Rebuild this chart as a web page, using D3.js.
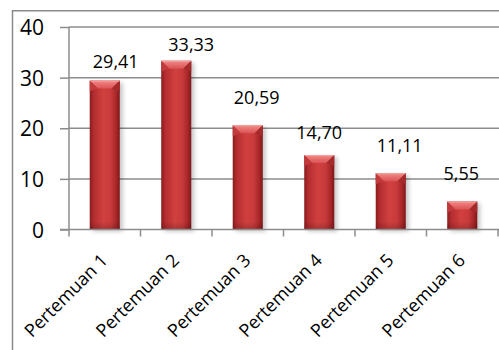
<!DOCTYPE html>
<html>
<head>
<meta charset="utf-8">
<script src="https://cdn.jsdelivr.net/npm/d3@7"></script>
<style>
  html, body { margin: 0; padding: 0; background: #fff; }
  svg { display: block; font-family: "Open Sans", "Noto Sans", sans-serif; }
</style>
</head>
<body>
<svg id="chart" width="499" height="350"></svg>
<script>
// Attendance percentage per meeting
const categories = ["Pertemuan 1", "Pertemuan 2", "Pertemuan 3", "Pertemuan 4", "Pertemuan 5", "Pertemuan 6"];
const values = [29.41, 33.33, 20.59, 14.70, 11.11, 5.55];
const yTicks = [0, 10, 20, 30, 40];

// Hand placement of the value labels relative to each bar top (px)
const labelDx = [11, 15, 9, 0, 9, -1];
const labelDy = [-13, -10, -21, -16, -21, -21];

const svg = d3.select("#chart");
const W = 499, H = 350;
const plot = { left: 69, right: 498, top: 27, bottom: 229.5 };

const idFmt = d3.formatLocale({ decimal: ",", thousands: ".", grouping: [3], currency: ["", ""] });
const fmt = idFmt.format(".2f");

const x = d3.scaleBand().domain(categories)
  .range([plot.left, plot.right]).paddingInner(0.58).paddingOuter(0.29);
const xCell = d3.scaleBand().domain(categories).range([plot.left, plot.right]).padding(0);
const y = d3.scaleLinear().domain([0, 40]).range([plot.bottom, plot.top]);

const defs = svg.append("defs");
const body = defs.append("linearGradient").attr("id", "barBody").attr("x1", 0).attr("x2", 1).attr("y1", 0).attr("y2", 0);
body.append("stop").attr("offset", "0%").attr("stop-color", "#8a1c1e");
body.append("stop").attr("offset", "14%").attr("stop-color", "#b42d30");
body.append("stop").attr("offset", "45%").attr("stop-color", "#d0403f");
body.append("stop").attr("offset", "70%").attr("stop-color", "#c83a3b");
body.append("stop").attr("offset", "88%").attr("stop-color", "#a72729");
body.append("stop").attr("offset", "100%").attr("stop-color", "#7e1618");

const cap = defs.append("linearGradient").attr("id", "barCap").attr("x1", 0).attr("x2", 0).attr("y1", 0).attr("y2", 1);
cap.append("stop").attr("offset", "0%").attr("stop-color", "#f08a88");
cap.append("stop").attr("offset", "100%").attr("stop-color", "#dc5253");

const shade = defs.append("linearGradient").attr("id", "barFoot").attr("x1", 0).attr("x2", 0).attr("y1", 0).attr("y2", 1);
shade.append("stop").attr("offset", "0%").attr("stop-color", "#000").attr("stop-opacity", 0);
shade.append("stop").attr("offset", "100%").attr("stop-color", "#000").attr("stop-opacity", 0.18);

const blur = defs.append("filter").attr("id", "soft").attr("x", "-30%").attr("y", "-30%").attr("width", "160%").attr("height", "160%");
blur.append("feGaussianBlur").attr("stdDeviation", 2);

// Outer chart frame (runs off the right and bottom edges)
svg.append("rect")
  .attr("x", 12.5).attr("y", 10.75).attr("width", 600).attr("height", 400)
  .attr("fill", "none").attr("stroke", "#8a8a8a").attr("stroke-width", 1.5);

// Horizontal gridlines
svg.append("g").selectAll("line").data(yTicks.filter(d => d > 0)).join("line")
  .attr("x1", plot.left).attr("x2", W + 2)
  .attr("y1", d => y(d)).attr("y2", d => y(d))
  .attr("stroke", "#8c8c8c").attr("stroke-width", 1.5);

// Y axis
const yAxis = svg.append("g").attr("transform", `translate(${plot.left},0)`)
  .call(d3.axisLeft(y).tickValues(yTicks).tickSize(9).tickPadding(16).tickFormat(d3.format("d")));
yAxis.select(".domain").attr("stroke", "#8c8c8c").attr("stroke-width", 1.5).attr("d", `M0,${plot.top}V${plot.bottom}`);
yAxis.selectAll(".tick line").attr("stroke", "#8c8c8c").attr("stroke-width", 1.5);
yAxis.selectAll(".tick text")
  .attr("fill", "#000").style("font-size", "21px").style("font-family", "'Open Sans', sans-serif")
  .attr("dy", "0.36em");

// Bars
const bars = svg.append("g").selectAll("g").data(values).join("g");

bars.append("rect")
  .attr("x", (d, i) => x(categories[i]) + 3)
  .attr("y", d => y(d) + 2)
  .attr("width", x.bandwidth())
  .attr("height", d => plot.bottom - y(d))
  .attr("fill", "#000").attr("opacity", 0.22).attr("filter", "url(#soft)");

bars.append("rect")
  .attr("x", (d, i) => x(categories[i]))
  .attr("y", d => y(d))
  .attr("width", x.bandwidth())
  .attr("height", d => plot.bottom - y(d))
  .attr("fill", "url(#barBody)");

bars.append("rect")
  .attr("x", (d, i) => x(categories[i]))
  .attr("y", d => plot.bottom - Math.min(8, plot.bottom - y(d)))
  .attr("width", x.bandwidth())
  .attr("height", d => Math.min(8, plot.bottom - y(d)))
  .attr("fill", "url(#barFoot)");

// Bevelled top of each column
const bev = 8;
bars.append("polygon")
  .attr("points", (d, i) => {
    const x0 = x(categories[i]), x1 = x0 + x.bandwidth(), t = y(d);
    return [[x0, t], [x1, t], [x1 - bev, t + bev], [x0 + bev, t + bev]].map(p => p.join(",")).join(" ");
  })
  .attr("fill", "url(#barCap)");
bars.append("polygon")
  .attr("points", (d, i) => {
    const x0 = x(categories[i]), t = y(d);
    return [[x0, t], [x0 + bev, t + bev], [x0, t + bev + 3]].map(p => p.join(",")).join(" ");
  })
  .attr("fill", "#c13b3d");
bars.append("polygon")
  .attr("points", (d, i) => {
    const x1 = x(categories[i]) + x.bandwidth(), t = y(d);
    return [[x1, t], [x1 - bev, t + bev], [x1, t + bev + 3]].map(p => p.join(",")).join(" ");
  })
  .attr("fill", "#a42a2c");
bars.append("line")
  .attr("x1", (d, i) => x(categories[i]) + 0.5)
  .attr("x2", (d, i) => x(categories[i]) + x.bandwidth() - 0.5)
  .attr("y1", d => y(d) + 0.5).attr("y2", d => y(d) + 0.5)
  .attr("stroke", "#f4a3a1").attr("stroke-width", 1);

// X axis line and category boundary ticks
svg.append("line")
  .attr("x1", 60).attr("x2", W + 2)
  .attr("y1", plot.bottom).attr("y2", plot.bottom)
  .attr("stroke", "#8c8c8c").attr("stroke-width", 1.5);
const bounds = categories.map(c => xCell(c)).concat([plot.right]);
svg.append("g").selectAll("line").data(bounds).join("line")
  .attr("x1", d => d).attr("x2", d => d)
  .attr("y1", plot.bottom).attr("y2", plot.bottom + 7)
  .attr("stroke", "#8c8c8c").attr("stroke-width", 1.5);

// Rotated category labels
svg.append("g").selectAll("text").data(categories).join("text")
  .attr("transform", c => `translate(${x(c) + x.bandwidth() / 2 + 4},${plot.bottom + 32}) rotate(-45)`)
  .attr("text-anchor", "end")
  .style("font-size", "18px")
  .attr("fill", "#000")
  .text(c => c);

// Value labels
svg.append("g").selectAll("text").data(values).join("text")
  .attr("x", (d, i) => x(categories[i]) + x.bandwidth() / 2 + labelDx[i])
  .attr("y", (d, i) => y(d) + labelDy[i])
  .attr("text-anchor", "middle")
  .style("font-size", "18px")
  .attr("fill", "#000")
  .text(d => fmt(d));
</script>
</body>
</html>
